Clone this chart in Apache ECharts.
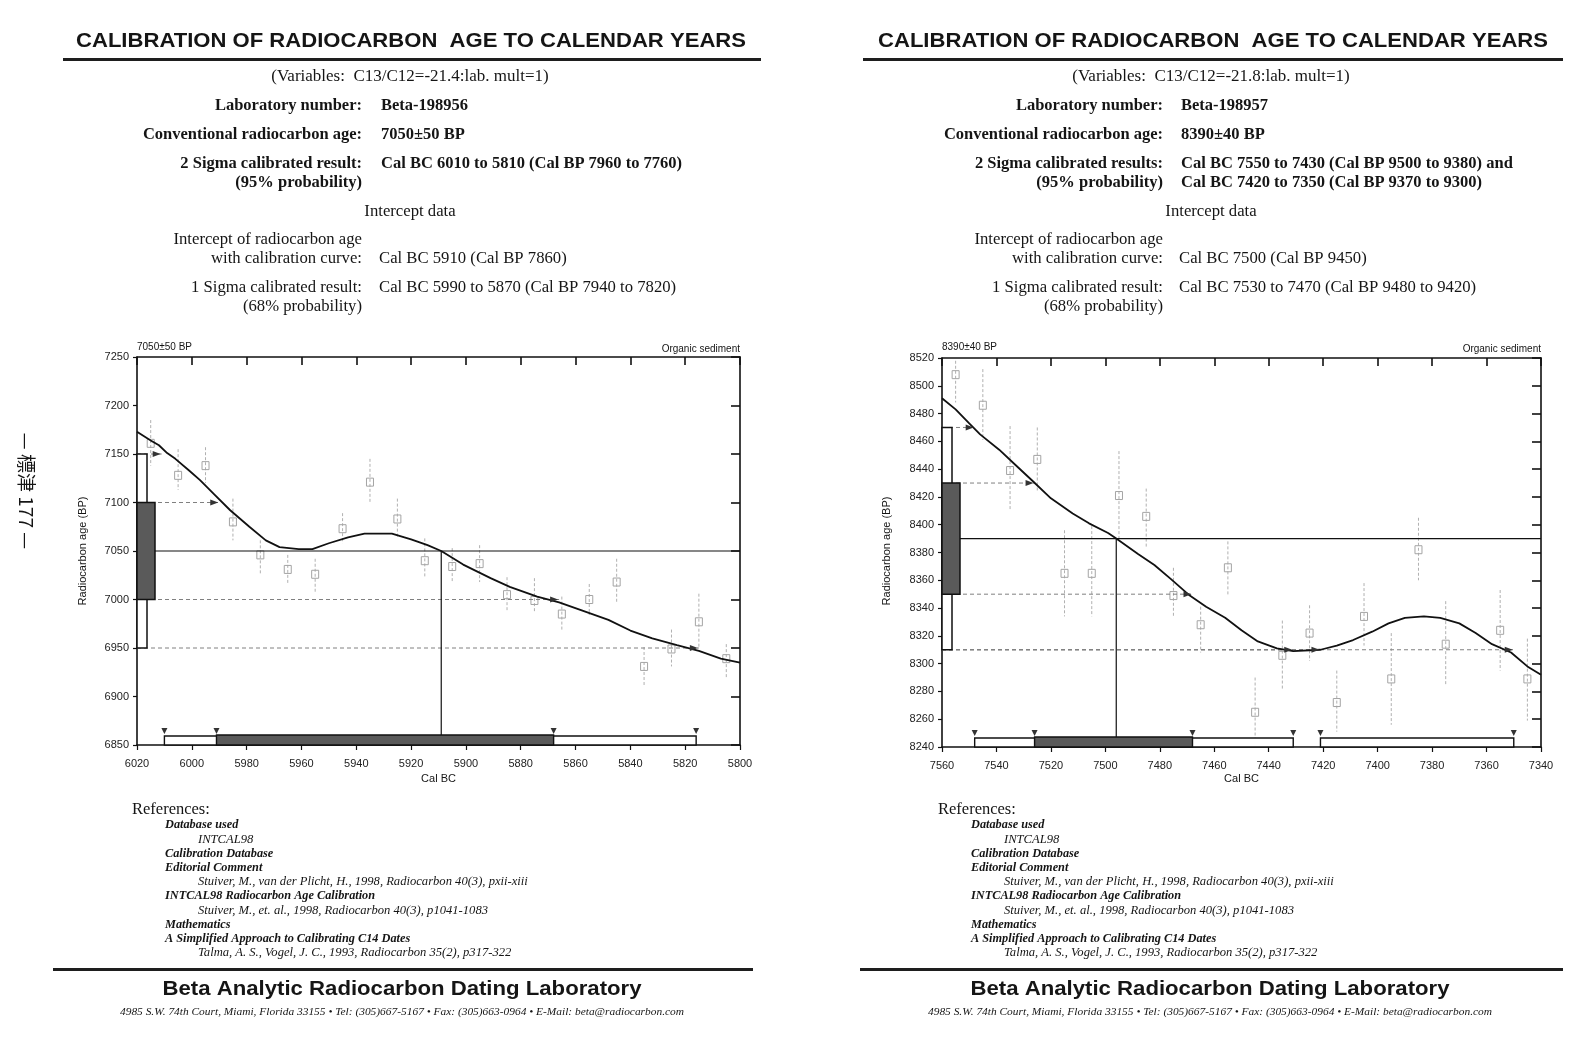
<!DOCTYPE html>
<html><head><meta charset="utf-8">
<script src="https://cdn.jsdelivr.net/npm/echarts@6/dist/echarts.min.js"></script>
<style>html,body{margin:0;padding:0;background:#fff}#c{width:1592px;height:1052px}</style>
</head><body><div id="c"></div>
<script>
// ===== LEFT SAMPLE (Beta-198956) =====
const L_xMin = 5800, L_xMax = 6020, L_xStep = 20;
const L_yMin = 6850, L_yMax = 7250, L_yStep = 50;
const L_curveYears = [6020, 6015, 6012, 6009, 6006, 6001, 5997, 5992, 5986, 5979, 5973, 5968, 5961, 5956, 5950, 5943, 5937, 5927, 5920, 5914, 5909, 5901, 5891, 5884, 5874, 5866, 5858, 5848, 5840, 5832, 5823, 5815, 5807, 5800];
const L_curveAges  = [7173, 7164, 7159, 7151, 7145, 7133, 7123, 7109, 7092, 7075, 7061, 7054, 7052, 7052, 7058, 7064, 7068, 7068, 7062, 7056, 7050, 7036, 7022, 7013, 7003, 6997, 6989, 6979, 6968, 6960, 6953, 6947, 6939, 6935];
const L_ptYears = [6015, 6005, 5995, 5985, 5975, 5965, 5955, 5945, 5935, 5925, 5915, 5905, 5895, 5885, 5875, 5865, 5855, 5845, 5835, 5825, 5815, 5805];
const L_ptAges  = [7161, 7128, 7138, 7080, 7046, 7031, 7026, 7073, 7121, 7083, 7040, 7034, 7037, 7005, 6999, 6985, 7000, 7018, 6931, 6949, 6977, 6939];
const L_ptHigh  = [7185, 7155, 7157, 7104, 7061, 7046, 7042, 7089, 7145, 7104, 7063, 7053, 7056, 7023, 7022, 7003, 7016, 7042, 6951, 6969, 7006, 6954];
const L_ptLow   = [7138, 7113, 7120, 7061, 7025, 7016, 7008, 7058, 7099, 7063, 7022, 7018, 7018, 6989, 6987, 6968, 6984, 6996, 6910, 6931, 6950, 6919];
const L_age = 7050;
const L_sigma1 = [7000, 7100];
const L_sigma2 = [6950, 7150];
const L_interceptYear = 5909;
const L_cal1 = [[5991, 5868]];
const L_cal2 = [[6010, 5816]];
const L_arrowYears = [6011, 5990, 5866, 5815];
const L_arrowAges  = [7150, 7100, 7000, 6950];

// ===== RIGHT SAMPLE (Beta-198957) =====
const R_xMin = 7340, R_xMax = 7560, R_xStep = 20;
const R_yMin = 8240, R_yMax = 8520, R_yStep = 20;
const R_curveYears = [7560, 7555, 7550, 7546, 7539, 7533, 7527, 7520, 7512, 7506, 7499, 7496, 7488, 7482, 7476, 7469, 7463, 7456, 7450, 7444, 7437, 7431, 7421, 7415, 7409, 7402, 7396, 7390, 7383, 7377, 7370, 7364, 7358, 7351, 7345, 7340];
const R_curveAges  = [8491, 8483, 8473, 8465, 8454, 8443, 8432, 8419, 8408, 8401, 8394, 8390, 8379, 8371, 8361, 8349, 8341, 8333, 8324, 8316, 8311, 8309, 8310, 8313, 8317, 8323, 8329, 8333, 8334, 8333, 8329, 8322, 8314, 8308, 8298, 8292];
const R_ptYears = [7555, 7545, 7535, 7525, 7515, 7505, 7495, 7485, 7475, 7465, 7455, 7445, 7435, 7425, 7415, 7405, 7395, 7385, 7375, 7355, 7345];
const R_ptAges  = [8508, 8486, 8439, 8447, 8365, 8365, 8421, 8406, 8349, 8328, 8369, 8265, 8306, 8322, 8272, 8334, 8289, 8382, 8314, 8324, 8289];
const R_ptHigh  = [8518, 8512, 8471, 8470, 8396, 8399, 8453, 8426, 8369, 8341, 8388, 8290, 8331, 8342, 8295, 8358, 8322, 8405, 8345, 8353, 8318];
const R_ptLow   = [8488, 8461, 8411, 8424, 8334, 8334, 8390, 8384, 8333, 8308, 8349, 8242, 8282, 8302, 8251, 8313, 8256, 8360, 8285, 8295, 8259];
const R_age = 8390;
const R_sigma1 = [8350, 8430];
const R_sigma2 = [8310, 8470];
const R_interceptYear = 7496;
const R_cal1 = [[7526, 7468]];
const R_cal2 = [[7548, 7431], [7421, 7350]];
const R_arrowYears = [7548, 7526, 7468, 7431, 7421, 7350];
const R_arrowAges  = [8470, 8430, 8350, 8310, 8310, 8310];

// ===== TEXT =====
const titleText = 'CALIBRATION OF RADIOCARBON  AGE TO CALENDAR YEARS';
const L_rows = {
  vars: '(Variables:  C13/C12=-21.4:lab. mult=1)',
  lab: 'Beta-198956', conv: '7050\u00b150 BP', convShort: '7050\u00b150 BP',
  sig2Label: '2 Sigma calibrated result:', sig2a: 'Cal BC 6010 to 5810 (Cal BP 7960 to 7760)', sig2b: '',
  icpt: 'Cal BC 5910 (Cal BP 7860)', sig1: 'Cal BC 5990 to 5870 (Cal BP 7940 to 7820)'
};
const R_rows = {
  vars: '(Variables:  C13/C12=-21.8:lab. mult=1)',
  lab: 'Beta-198957', conv: '8390\u00b140 BP', convShort: '8390\u00b140 BP',
  sig2Label: '2 Sigma calibrated results:', sig2a: 'Cal BC 7550 to 7430 (Cal BP 9500 to 9380) and', sig2b: 'Cal BC 7420 to 7350 (Cal BP 9370 to 9300)',
  icpt: 'Cal BC 7500 (Cal BP 9450)', sig1: 'Cal BC 7530 to 7470 (Cal BP 9480 to 9420)'
};
const refLines = [
  ['h', 'Database used'], ['s', 'INTCAL98'], ['h', 'Calibration Database'], ['h', 'Editorial Comment'],
  ['s', 'Stuiver, M., van der Plicht, H., 1998, Radiocarbon 40(3), pxii-xiii'],
  ['h', 'INTCAL98 Radiocarbon Age Calibration'],
  ['s', 'Stuiver, M., et. al., 1998, Radiocarbon 40(3), p1041-1083'],
  ['h', 'Mathematics'], ['h', 'A Simplified Approach to Calibrating C14 Dates'],
  ['s', 'Talma, A. S., Vogel, J. C., 1993, Radiocarbon 35(2), p317-322']
];
const labName = 'Beta Analytic Radiocarbon Dating Laboratory';
const addressText = '4985 S.W. 74th Court, Miami, Florida 33155 \u2022 Tel: (305)667-5167 \u2022 Fax: (305)663-0964 \u2022 E-Mail: beta@radiocarbon.com';
const sideText = '\u2014 \u6a19\u6d25 177 \u2014';

// ===== helpers =====
const zip2 = (a, b) => a.map((v, i) => [v, b[i]]);
const SERIF = '"Liberation Serif", "Times New Roman", serif';
const SANS = '"Liberation Sans", Arial, sans-serif';
const measureCtx = document.createElement('canvas').getContext('2d');
function fitScale(text, font, w) { measureCtx.font = font; return w / measureCtx.measureText(text).width; }
function T(text, x, y, font, align, extra) {
  const el = {type: 'text', x: x, y: y, silent: true,
    style: {text: text, font: font, fill: '#151515', align: align || 'left', verticalAlign: 'middle',
            textAlign: align || 'left', textVerticalAlign: 'middle'}};
  return Object.assign(el, extra || {});
}
function R(x, y, w, h, fill) { return {type: 'rect', silent: true, shape: {x: x, y: y, width: w, height: h}, style: {fill: fill || '#1a1a1a'}}; }

const axisLineStyle = {color: '#111', width: 1.6};
const fmt = v => String(v);
function makeX(g, min, max, step) {
  return [
    {type: 'value', gridIndex: g, position: 'bottom', min: min, max: max, interval: step, inverse: true,
     axisLine: {show: true, onZero: false, lineStyle: axisLineStyle},
     axisTick: {show: true, inside: false, length: 5, lineStyle: {color: '#111', width: 1.2}},
     axisLabel: {show: true, margin: 13, color: '#222', fontSize: 11, fontFamily: SANS, formatter: fmt, showMinLabel: true, showMaxLabel: true, hideOverlap: false},
     splitLine: {show: false}},
    {type: 'value', gridIndex: g, position: 'top', min: min, max: max, interval: step, inverse: true,
     axisLine: {show: true, onZero: false, lineStyle: axisLineStyle},
     axisTick: {show: true, inside: true, length: 8, lineStyle: {color: '#111', width: 1.6}},
     axisLabel: {show: false}, splitLine: {show: false}}
  ];
}
function makeY(g, min, max, step) {
  return [
    {type: 'value', gridIndex: g, position: 'left', min: min, max: max, interval: step,
     axisLine: {show: true, onZero: false, lineStyle: axisLineStyle},
     axisTick: {show: true, inside: false, length: 4, lineStyle: {color: '#111', width: 1.2}},
     axisLabel: {show: true, margin: 8, color: '#222', fontSize: 11, fontFamily: SANS, formatter: fmt, showMinLabel: true, showMaxLabel: true},
     splitLine: {show: false}},
    {type: 'value', gridIndex: g, position: 'right', min: min, max: max, interval: step,
     axisLine: {show: true, onZero: false, lineStyle: axisLineStyle},
     axisTick: {show: true, inside: true, length: 9, lineStyle: {color: '#111', width: 1.6}},
     axisLabel: {show: false}, splitLine: {show: false}}
  ];
}

// render functions
function pointRender(params, api) {
  const x = api.value(0), p = api.coord([x, api.value(1)]);
  const pl = api.coord([x, api.value(2)]), ph = api.coord([x, api.value(3)]);
  return {type: 'group', children: [
    {type: 'line', shape: {x1: p[0], y1: ph[1], x2: p[0], y2: pl[1]}, style: {stroke: '#b0b0b0', lineWidth: 1, lineDash: [3, 2]}},
    {type: 'rect', shape: {x: p[0] - 3.5, y: p[1] - 4, width: 7, height: 8}, style: {fill: 'none', stroke: '#a4a4a4', lineWidth: 1}}
  ]};
}
function hLineRender(color, width, dash) {
  return function (params, api) {
    const a = api.coord([api.value(0), api.value(1)]), b = api.coord([api.value(2), api.value(1)]);
    return {type: 'line', shape: {x1: a[0], y1: a[1], x2: b[0], y2: b[1]}, style: {stroke: color, lineWidth: width, lineDash: dash || null}};
  };
}
function vLineRender(params, api) {
  const a = api.coord([api.value(0), api.value(1)]), b = api.coord([api.value(0), api.value(2)]);
  return {type: 'line', shape: {x1: a[0], y1: a[1], x2: b[0], y2: b[1]}, style: {stroke: '#111', lineWidth: 1.2}};
}
function arrowRender(params, api) {
  const p = api.coord([api.value(0), api.value(1)]);
  return {type: 'polygon', shape: {points: [[p[0] - 9, p[1] - 3], [p[0] - 1, p[1]], [p[0] - 9, p[1] + 3]]}, style: {fill: '#333'}};
}
function yBoxRender(w, fill) {
  return function (params, api) {
    const a = api.coord([api.value(0), api.value(1)]), b = api.coord([api.value(0), api.value(2)]);
    return {type: 'rect', shape: {x: a[0], y: b[1], width: w, height: a[1] - b[1]}, style: {fill: fill, stroke: '#111', lineWidth: 1.5}};
  };
}
function xBarRender(h, fill) {
  return function (params, api) {
    const a = api.coord([api.value(0), api.value(2)]), b = api.coord([api.value(1), api.value(2)]);
    return {type: 'rect', shape: {x: a[0], y: a[1] - h, width: b[0] - a[0], height: h}, style: {fill: fill, stroke: '#111', lineWidth: 1.4}};
  };
}
function triRender(h) {
  return function (params, api) {
    const p = api.coord([api.value(0), api.value(1)]);
    const ty = p[1] - h - 1;
    return {type: 'polygon', shape: {points: [[p[0] - 3, ty - 6], [p[0] + 3, ty - 6], [p[0], ty]]}, style: {fill: '#333'}};
  };
}

function chartSeries(xi, yi, d) {
  const common = {xAxisIndex: xi, yAxisIndex: yi, silent: true, animation: false};
  const pts = d.ptYears.map((v, i) => [v, d.ptAges[i], d.ptLow[i], d.ptHigh[i]]);
  const dashData = d.arrowYears.map((v, i) => [d.xMax, d.arrowAges[i], v]);
  const ends = [];
  d.cal2.concat(d.cal1).forEach(r => { ends.push([r[0], d.yMin]); ends.push([r[1], d.yMin]); });
  return [
    Object.assign({type: 'custom', renderItem: pointRender, data: pts, z: 2}, common),
    Object.assign({type: 'custom', renderItem: hLineRender('#808080', 1, [4, 3]), data: dashData, z: 3}, common),
    Object.assign({type: 'custom', renderItem: hLineRender('#111', 1.2), data: [[d.xMax, d.age, d.xMin]], z: 3}, common),
    Object.assign({type: 'custom', renderItem: vLineRender, data: [[d.intercept, d.age, d.yMin]], z: 3}, common),
    Object.assign({type: 'line', data: zip2(d.curveYears, d.curveAges), showSymbol: false, symbol: 'none',
                   lineStyle: {color: '#111', width: 1.8}, z: 4}, common),
    Object.assign({type: 'custom', renderItem: arrowRender, data: zip2(d.arrowYears, d.arrowAges), z: 5}, common),
    Object.assign({type: 'custom', renderItem: yBoxRender(10, '#fff'), data: [[d.xMax, d.sigma2[0], d.sigma2[1]]], z: 6}, common),
    Object.assign({type: 'custom', renderItem: yBoxRender(18, '#5a5a5a'), data: [[d.xMax, d.sigma1[0], d.sigma1[1]]], z: 7}, common),
    Object.assign({type: 'custom', renderItem: xBarRender(9, '#fff'), data: d.cal2.map(r => [r[0], r[1], d.yMin]), z: 6}, common),
    Object.assign({type: 'custom', renderItem: xBarRender(10, '#5a5a5a'), data: d.cal1.map(r => [r[0], r[1], d.yMin]), z: 7}, common),
    Object.assign({type: 'custom', renderItem: triRender(10), data: ends, z: 8}, common)
  ];
}

const Ld = {xMin: L_xMin, xMax: L_xMax, yMin: L_yMin, curveYears: L_curveYears, curveAges: L_curveAges,
  ptYears: L_ptYears, ptAges: L_ptAges, ptLow: L_ptLow, ptHigh: L_ptHigh, age: L_age, sigma1: L_sigma1, sigma2: L_sigma2,
  intercept: L_interceptYear, cal1: L_cal1, cal2: L_cal2, arrowYears: L_arrowYears, arrowAges: L_arrowAges};
const Rd = {xMin: R_xMin, xMax: R_xMax, yMin: R_yMin, curveYears: R_curveYears, curveAges: R_curveAges,
  ptYears: R_ptYears, ptAges: R_ptAges, ptLow: R_ptLow, ptHigh: R_ptHigh, age: R_age, sigma1: R_sigma1, sigma2: R_sigma2,
  intercept: R_interceptYear, cal1: R_cal1, cal2: R_cal2, arrowYears: R_arrowYears, arrowAges: R_arrowAges};

// ===== page text (graphic) =====
function pageText(rows, o) {
  const g = [];
  const tf = 'bold 21px ' + SANS;
  g.push(T(titleText, o.titleCx, 41, tf, 'center', {scaleX: fitScale(titleText, tf, 670)}));
  g.push(R(o.ruleX, 58, o.ruleW, 3, '#1e1e1e'));
  const nf = '16.7px ' + SERIF, bf = 'bold 16.5px ' + SERIF, vf = '17px ' + SERIF;
  g.push(T(rows.vars, o.varsCx, 77, vf, 'center'));
  g.push(T('Laboratory number:', o.lx, 106, bf, 'right'));
  g.push(T(rows.lab, o.vx, 106, bf));
  g.push(T('Conventional radiocarbon age:', o.lx, 135, bf, 'right'));
  g.push(T(rows.conv, o.vx, 135, bf));
  g.push(T(rows.sig2Label, o.lx, 164, bf, 'right'));
  g.push(T(rows.sig2a, o.vx, 164, bf));
  g.push(T('(95% probability)', o.lx, 183, bf, 'right'));
  if (rows.sig2b) g.push(T(rows.sig2b, o.vx, 183, bf));
  g.push(T('Intercept data', o.varsCx, 212, nf, 'center'));
  g.push(T('Intercept of radiocarbon age', o.lx, 240, nf, 'right'));
  g.push(T('with calibration curve:', o.lx, 259, nf, 'right'));
  g.push(T(rows.icpt, o.vx - 2, 259, nf));
  g.push(T('1 Sigma calibrated result:', o.lx, 288, nf, 'right'));
  g.push(T(rows.sig1, o.vx - 2, 288, nf));
  g.push(T('(68% probability)', o.lx, 307, nf, 'right'));
  // chart captions
  const sf = '10px ' + SANS;
  g.push(T(rows.convShort, o.gx, 347, sf));
  g.push(T('Organic sediment', o.gx + o.gw, 349, sf, 'right'));
  g.push(T('Radiocarbon age (BP)', o.yNameX, 551, '11px ' + SANS, 'center', {rotation: Math.PI / 2}));
  g.push(T('Cal BC', o.gx + o.gw / 2, 779, '11px ' + SANS, 'center'));
  // references
  g.push(T('References:', o.refX, 810, '16.5px ' + SERIF));
  refLines.forEach((r, i) => {
    const head = r[0] === 'h';
    g.push(T(r[1], head ? o.refX + 33 : o.refX + 66, 825 + i * 14.2, (head ? 'italic bold 12.3px ' : 'italic 12.6px ') + SERIF));
  });
  g.push(R(o.footRuleX, 968, o.footRuleW, 3, '#1e1e1e'));
  const lf = 'bold 20px ' + SANS;
  g.push(T(labName, o.footCx, 989, lf, 'center', {scaleX: fitScale(labName, lf, 479)}));
  const af = 'italic 10px ' + SERIF;
  g.push(T(addressText, o.footCx, 1012, af, 'center', {scaleX: fitScale(addressText, af, 564)}));
  return g;
}

const graphics = []
  .concat(pageText(L_rows, {titleCx: 411, ruleX: 63, ruleW: 698, varsCx: 410, lx: 362, vx: 381, gx: 137, gw: 603, yNameX: 83,
    refX: 132, footRuleX: 53, footRuleW: 700, footCx: 402}))
  .concat(pageText(R_rows, {titleCx: 1213, ruleX: 863, ruleW: 700, varsCx: 1211, lx: 1163, vx: 1181, gx: 942, gw: 599, yNameX: 887,
    refX: 938, footRuleX: 860, footRuleW: 703, footCx: 1210}));
graphics.push(T(sideText, 26, 491, '19px "Noto Sans CJK JP"', 'center', {rotation: -Math.PI / 2}));

const chart = echarts.init(document.getElementById('c'), null, {renderer: 'canvas', width: 1592, height: 1052});
chart.setOption({
  backgroundColor: '#ffffff',
  animation: false,
  grid: [
    {left: 137, top: 357, width: 603, height: 388},
    {left: 942, top: 358, width: 599, height: 389}
  ],
  xAxis: makeX(0, L_xMin, L_xMax, L_xStep).concat(makeX(1, R_xMin, R_xMax, R_xStep)),
  yAxis: makeY(0, L_yMin, L_yMax, L_yStep).concat(makeY(1, R_yMin, R_yMax, R_yStep)),
  series: chartSeries(0, 0, Ld).concat(chartSeries(2, 2, Rd)),
  graphic: graphics
});
</script>
</body></html>
